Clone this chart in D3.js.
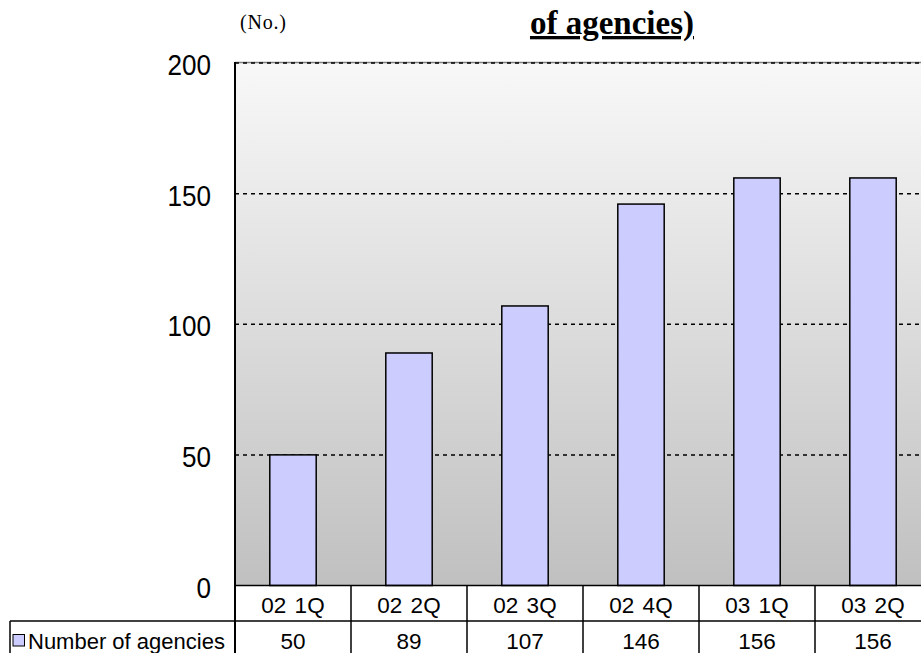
<!DOCTYPE html>
<html>
<head>
<meta charset="utf-8">
<script src="https://cdn.jsdelivr.net/npm/d3@7"></script>
<style>
  html, body { margin: 0; padding: 0; background: #fff; }
  svg { display: block; }
  text { white-space: pre; }
</style>
</head>
<body>
<div id="chart"></div>
<script>
// Quarterly count of agencies
const quarters = ["02 1Q", "02 2Q", "02 3Q", "02 4Q", "03 1Q", "03 2Q"];
const agencies = [50, 89, 107, 146, 156, 156];
const yTicks = [0, 50, 100, 150, 200];
const seriesName = "Number of agencies";
const titleText = "of agencies)";
const unitText = "(No.)";

const W = 921, H = 653;
const plot = { left: 235, right: 931, top: 63, bottom: 585.5 };
const rowH = 35.5;

const svg = d3.select("#chart").append("svg")
  .attr("width", W).attr("height", H);

const defs = svg.append("defs");
const grad = defs.append("linearGradient")
  .attr("id", "bg").attr("x1", 0).attr("y1", 0).attr("x2", 0).attr("y2", 1);
grad.append("stop").attr("offset", "0%").attr("stop-color", "#f8f8f8");
grad.append("stop").attr("offset", "100%").attr("stop-color", "#c0c0c0");

const x = d3.scaleBand()
  .domain(quarters)
  .range([plot.left, plot.right])
  .paddingInner(0.6)
  .paddingOuter(0.3);

const xCell = d3.scaleBand()
  .domain(quarters)
  .range([plot.left, plot.right])
  .padding(0);

const y = d3.scaleLinear()
  .domain([0, 200])
  .range([plot.bottom, plot.top]);

// plot background
svg.append("rect")
  .attr("x", plot.left).attr("y", plot.top)
  .attr("width", plot.right - plot.left)
  .attr("height", plot.bottom - plot.top)
  .attr("fill", "url(#bg)");

// top frame line
svg.append("line")
  .attr("x1", plot.left).attr("x2", plot.right)
  .attr("y1", y(200) - 0.5).attr("y2", y(200) - 0.5)
  .attr("stroke", "#808080").attr("stroke-width", 1.5);

// dashed gridlines
svg.append("g")
  .selectAll("line")
  .data(yTicks.filter(d => d > 0))
  .join("line")
  .attr("x1", plot.left).attr("x2", plot.right)
  .attr("y1", d => y(d)).attr("y2", d => y(d))
  .attr("stroke", "#000")
  .attr("stroke-width", 1.5)
  .attr("stroke-dasharray", "4,4");

// bars
svg.append("g")
  .selectAll("rect")
  .data(agencies)
  .join("rect")
  .attr("x", (d, i) => x(quarters[i]))
  .attr("y", d => y(d))
  .attr("width", x.bandwidth())
  .attr("height", d => y(0) - y(d))
  .attr("fill", "#ccccff")
  .attr("stroke", "#000")
  .attr("stroke-width", 1.5);

// y axis
const yAxis = d3.axisLeft(y).tickValues(yTicks).tickSize(0).tickPadding(0);
const gy = svg.append("g")
  .attr("transform", `translate(${plot.left},0)`)
  .call(yAxis);
gy.select(".domain").remove();
gy.selectAll(".tick text")
  .attr("x", 0)
  .attr("dy", "0.37em")
  .attr("transform", "translate(-24,1) scale(0.9,1)")
  .attr("font-family", "Liberation Sans, Arial, sans-serif")
  .attr("font-size", 29)
  .attr("fill", "#000")
  .attr("text-anchor", "end");

// data table
const table = svg.append("g");
const row1 = plot.bottom;
const row2 = plot.bottom + rowH;

table.append("line")
  .attr("x1", plot.left).attr("x2", W + 10)
  .attr("y1", row1).attr("y2", row1)
  .attr("stroke", "#000").attr("stroke-width", 1.5);
table.append("line")
  .attr("x1", 10).attr("x2", W + 10)
  .attr("y1", row2).attr("y2", row2)
  .attr("stroke", "#000").attr("stroke-width", 1.5);

// vertical cell borders
const borders = quarters.map(q => xCell(q)).concat([plot.right]);
table.selectAll("line.v")
  .data(borders)
  .join("line")
  .attr("class", "v")
  .attr("x1", d => d).attr("x2", d => d)
  .attr("y1", row1).attr("y2", H + 10)
  .attr("stroke", "#000").attr("stroke-width", 1.5);

table.append("line")
  .attr("x1", 10).attr("x2", 10)
  .attr("y1", row2).attr("y2", H + 10)
  .attr("stroke", "#000").attr("stroke-width", 1.5);

// left axis line
svg.append("line")
  .attr("x1", plot.left).attr("x2", plot.left)
  .attr("y1", plot.top - 1).attr("y2", H + 10)
  .attr("stroke", "#000").attr("stroke-width", 2);

const cellFont = "Liberation Sans, Arial, sans-serif";
table.selectAll("text.cat")
  .data(quarters)
  .join("text")
  .attr("class", "cat")
  .attr("x", d => xCell(d) + xCell.bandwidth() / 2)
  .attr("y", row1 + 27)
  .attr("text-anchor", "middle")
  .attr("font-family", cellFont)
  .attr("font-size", 22.5)
  .attr("word-spacing", 2)
  .text(d => d);

table.selectAll("text.val")
  .data(agencies)
  .join("text")
  .attr("class", "val")
  .attr("x", (d, i) => xCell(quarters[i]) + xCell.bandwidth() / 2)
  .attr("y", row2 + 28)
  .attr("text-anchor", "middle")
  .attr("font-family", cellFont)
  .attr("font-size", 22.5)
  .text(d => d);

// legend key in the table
table.append("rect")
  .attr("x", 13).attr("y", row2 + 13.5)
  .attr("width", 11.5).attr("height", 11.5)
  .attr("fill", "#ccccff").attr("stroke", "#000").attr("stroke-width", 1);
table.append("text")
  .attr("x", 28).attr("y", row2 + 28)
  .attr("font-family", cellFont)
  .attr("font-size", 22)
  .text(seriesName);

// title and unit
svg.append("text")
  .attr("x", 612).attr("y", 34)
  .attr("text-anchor", "middle")
  .attr("font-family", "Liberation Serif, Times New Roman, serif")
  .attr("font-weight", "bold")
  .attr("font-size", 33)
  .attr("text-decoration", "underline")
  .text(titleText);

svg.append("text")
  .attr("x", 240).attr("y", 29)
  .attr("font-family", "Liberation Serif, Times New Roman, serif")
  .attr("font-size", 20)
  .attr("textLength", 46)
  .attr("lengthAdjust", "spacing")
  .text(unitText);
</script>
</body>
</html>
